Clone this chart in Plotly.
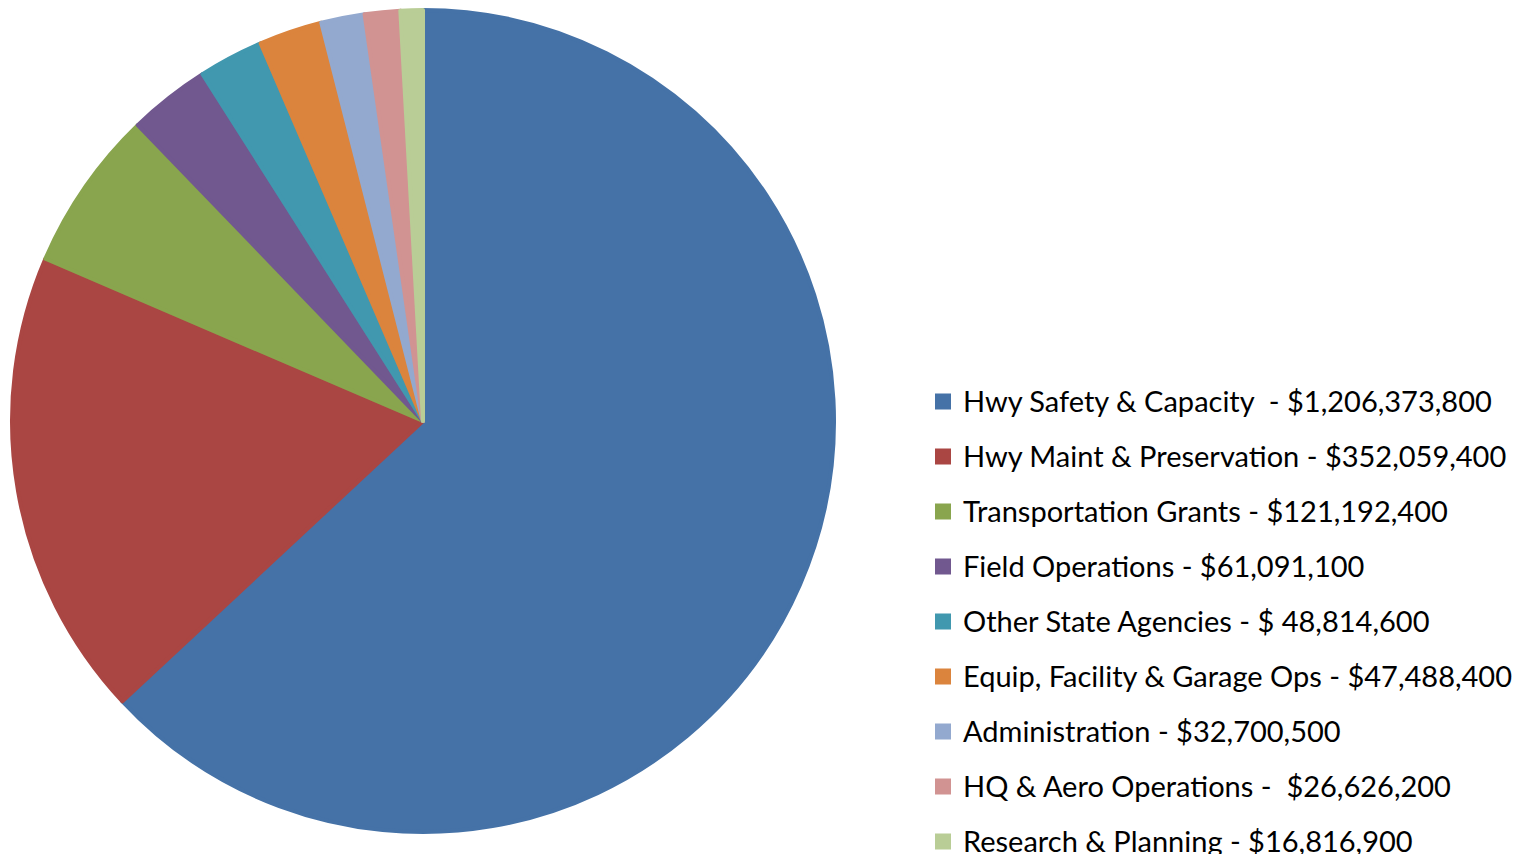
import plotly.graph_objects as go

categories = [
    "Hwy Safety & Capacity\u00a0 - $1,206,373,800",
    "Hwy Maint & Preservation - $352,059,400",
    "Transportation Grants - $121,192,400",
    "Field Operations - $61,091,100",
    "Other State Agencies - $ 48,814,600",
    "Equip, Facility & Garage Ops - $47,488,400",
    "Administration - $32,700,500",
    "HQ & Aero Operations -\u00a0 $26,626,200",
    "Research & Planning - $16,816,900",
]
values = [1206373800, 352059400, 121192400, 61091100, 48814600,
          47488400, 32700500, 26626200, 16816900]
colors = ["#4572A7", "#AA4643", "#89A54E", "#71588F", "#4198AF",
          "#DB843D", "#93A9CF", "#D19392", "#B9CD96"]

W, H = 1524, 854
labels = [f"<span style='font-size:29px;baseline-shift:5px'>{c}</span>" for c in categories]

fig = go.Figure(go.Pie(
    labels=labels,
    values=values,
    sort=False,
    direction="clockwise",
    rotation=0,
    marker=dict(colors=colors, line=dict(color=colors, width=4)),
    textinfo="none",
    domain=dict(x=[4 / W, 826 / W], y=[1 - 824 / H, 1 - 2 / H]),
))

fig.update_layout(
    width=W, height=H,
    margin=dict(l=0, r=0, t=0, b=0, autoexpand=False),
    paper_bgcolor="white", plot_bgcolor="white",
    font=dict(family="Lato, 'Open Sans', sans-serif", color="black"),
    legend=dict(
        x=915 / W, y=1 - 361 / H, xanchor="left", yanchor="top",
        font=dict(size=40, family="Lato, 'Open Sans', sans-serif", color="black"),
        maxheight=700, bgcolor="rgba(0,0,0,0)",
    ),
    showlegend=True,
)

fig.write_html("out.html")
